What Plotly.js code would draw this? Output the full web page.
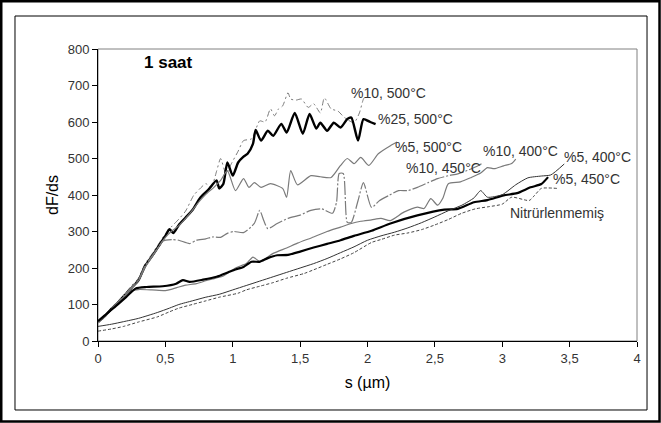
<!DOCTYPE html>
<html><head><meta charset="utf-8">
<script src="https://cdn.plot.ly/plotly-3.0.1.min.js"></script>
<style>html,body{margin:0;padding:0;background:#fff}#chart{width:661px;height:423px}</style>
</head><body><div id="chart"></div>
<script>
// Series names (labels)
const names = ["%10, 500°C", "%25, 500°C", "%5, 500°C", "%10, 450°C", "%10, 400°C", "%5, 450°C", "%5, 400°C", "Nitrürlenmemiş"];

// %10, 500°C
const x10_500 = [0,0.05,0.1,0.15,0.2,0.25,0.3,0.35,0.4,0.45,0.5,0.55,0.6,0.65,0.71,0.75,0.8,0.84,0.88,0.91,0.95,0.99,1.04,1.08,1.14,1.2,1.24,1.28,1.31,1.34,1.37,1.41,1.43,1.47,1.51,1.56,1.6,1.65,1.68,1.73,1.78,1.83,1.9,1.94,1.97,1.99];
const y10_500 = [50,70,92,110,130,152,172,212,238,266,294,315,334,356,399,415,431,421,465,500,458,486,520,549,554,603,600,636,617,636,644,680,663,660,663,640,650,625,666,636,630,612,598,625,663,672];

// %25, 500°C
const x25_500 = [0,0.05,0.1,0.15,0.2,0.25,0.3,0.35,0.4,0.45,0.5,0.53,0.56,0.6,0.65,0.7,0.76,0.82,0.88,0.9,0.93,0.96,1.0,1.04,1.08,1.11,1.15,1.17,1.21,1.26,1.3,1.36,1.4,1.46,1.52,1.57,1.62,1.65,1.7,1.75,1.8,1.85,1.88,1.93,1.97,2.02,2.06];
const y25_500 = [52,68,88,106,126,146,166,206,232,260,288,306,296,318,338,358,393,415,440,418,430,489,453,489,505,513,540,578,549,576,562,595,571,625,568,622,582,598,576,598,585,608,612,549,608,600,594];

// %5, 500°C
const x5_500 = [0,0.05,0.1,0.15,0.2,0.25,0.3,0.35,0.4,0.45,0.5,0.55,0.6,0.65,0.7,0.75,0.8,0.86,0.91,0.96,1.02,1.08,1.12,1.16,1.21,1.28,1.37,1.4,1.43,1.48,1.58,1.65,1.73,1.8,1.85,1.9,1.95,2.01,2.08,2.17,2.22];
const y5_500 = [50,67,87,105,124,144,165,202,230,258,284,302,316,336,358,382,402,421,440,467,412,445,421,434,421,431,418,394,467,428,453,450,448,481,500,486,503,481,513,535,545];

// %10, 450°C
const x10_450 = [0,0.05,0.1,0.15,0.2,0.25,0.3,0.35,0.4,0.45,0.48,0.55,0.6,0.68,0.73,0.8,0.85,0.91,0.96,1.01,1.08,1.16,1.2,1.23,1.26,1.33,1.41,1.5,1.58,1.66,1.74,1.77,1.79,1.82,1.85,1.88,1.93,1.97,2.03,2.09,2.16,2.23,2.3,2.37,2.45,2.52,2.6,2.67,2.74,2.82,2.86];
const y10_450 = [50,68,90,108,128,148,168,206,232,258,274,278,276,267,276,280,285,284,295,300,297,322,358,330,308,322,336,345,358,362,350,380,459,459,325,325,385,434,366,385,399,412,412,421,434,445,453,458,467,480,489];

// %10, 400°C
const x10_400 = [0,0.05,0.1,0.15,0.2,0.25,0.3,0.4,0.5,0.55,0.6,0.65,0.73,0.8,0.85,0.93,1.02,1.1,1.15,1.2,1.3,1.4,1.48,1.6,1.7,1.8,1.88,1.95,2.03,2.1,2.17,2.27,2.37,2.42,2.47,2.52,2.56,2.6,2.69,2.77,2.84,2.89,2.94,3.01,3.07,3.1];
const y10_400 = [52,70,88,105,124,138,141,140,138,142,148,153,157,165,170,178,200,212,230,218,240,255,268,285,300,312,322,328,332,336,330,353,367,363,390,372,392,431,436,448,460,475,472,480,486,498];

// %5, 450°C
const x5_450 = [0,0.05,0.1,0.13,0.21,0.28,0.36,0.48,0.58,0.63,0.68,0.78,0.88,0.97,1.02,1.08,1.14,1.2,1.26,1.33,1.41,1.5,1.6,1.7,1.8,1.9,2.03,2.17,2.37,2.57,2.67,2.79,2.89,3.01,3.11,3.21,3.29,3.34];
const y5_450 = [54,70,86,95,121,144,148,150,157,167,162,168,176,189,196,203,217,217,227,235,236,245,256,266,276,288,302,322,344,360,362,380,386,399,405,421,430,449];

// %5, 400°C
const x5_400 = [0,0.1,0.19,0.3,0.44,0.53,0.6,0.7,0.8,0.9,1.0,1.1,1.2,1.3,1.4,1.5,1.6,1.7,1.8,1.9,2.0,2.1,2.2,2.3,2.4,2.5,2.6,2.7,2.79,2.84,2.89,3.0,3.1,3.19,3.29,3.36,3.46];
const y5_400 = [40,46,53,62,78,90,100,110,120,128,140,152,164,176,188,200,212,226,242,258,276,288,298,310,324,340,357,372,392,412,394,401,428,447,452,455,485];

// Nitrürlenmemiş
const xNit = [0,0.1,0.19,0.3,0.44,0.53,0.6,0.7,0.8,0.9,1.04,1.1,1.2,1.3,1.4,1.53,1.6,1.7,1.8,1.9,2.03,2.1,2.2,2.3,2.4,2.5,2.6,2.7,2.8,2.9,3.0,3.07,3.2,3.24,3.29,3.41];
const yNit = [27,33,40,52,66,80,90,100,110,120,131,140,150,160,172,185,195,210,225,242,270,278,290,296,305,318,333,350,362,368,375,394,385,399,418,418];

// In-chart label texts and their positions (data coords)
const labelText = ["%10, 500°C","%25, 500°C","%5, 500°C","%10, 450°C","%10, 400°C","%5, 450°C","%5, 400°C","Nitrürlenmemiş"];
const labelX = [1.86, 2.06, 2.19, 2.27, 2.84, 3.36, 3.44, 3.04];
const labelY = [680, 609, 532, 475, 521, 445, 503, 352];

const gray = '#7a7a7a';
const traces = [
  {x:x10_500, y:y10_500, line:{color:gray, width:1, dash:'6px,3px,2px,3px'}},
  {x:x25_500, y:y25_500, line:{color:'#000', width:2.4}},
  {x:x5_500, y:y5_500, line:{color:gray, width:1.2}},
  {x:x10_450, y:y10_450, line:{color:gray, width:1.2, dash:'14px,2px,2px,2px'}},
  {x:x10_400, y:y10_400, line:{color:gray, width:1.2}},
  {x:x5_450, y:y5_450, line:{color:'#000', width:2.2}},
  {x:x5_400, y:y5_400, line:{color:'#333', width:1}},
  {x:xNit, y:yNit, line:{color:'#444', width:1, dash:'3px,2px'}}
].map((t,i)=>Object.assign(t,{type:'scatter', mode:'lines', name:names[i], hoverinfo:'skip', line:Object.assign(t.line,{shape:'spline', smoothing:0.6})}));

const font = 'Liberation Sans, Arial, sans-serif';
const annotations = labelText.map((t,i)=>({
  x: labelX[i], y: labelY[i], xref:'x', yref:'y', text:t, showarrow:false,
  xanchor:'left', yanchor:'middle', font:{family:font, size:14, color:'#333'}
}));
annotations.push({x:0.33, y:764, xref:'x', yref:'y', text:'<b>1 saat</b>', showarrow:false,
  xanchor:'left', yanchor:'middle', font:{family:font, size:17, color:'#000'}});

const layout = {
  width:661, height:423,
  margin:{l:98, r:24, t:49, b:82},
  paper_bgcolor:'#fff', plot_bgcolor:'#fff',
  showlegend:false,
  separators:',.',
  font:{family:font, size:13, color:'#333'},
  xaxis:{range:[0,4], dtick:0.5, tick0:0, showgrid:false, zeroline:false,
    showline:true, linecolor:'#000', linewidth:1, ticks:'outside', ticklen:5, tickcolor:'#000',
    tickfont:{family:font, size:13, color:'#333'},
    title:{text:'s (µm)', font:{family:font, size:16, color:'#000'}, standoff:12}},
  yaxis:{range:[0,800], dtick:100, tick0:0, showgrid:false, zeroline:false,
    showline:true, linecolor:'#000', linewidth:1, ticks:'outside', ticklen:5, tickcolor:'#000',
    tickfont:{family:font, size:13, color:'#333'},
    title:{text:'dF/ds', font:{family:font, size:16, color:'#000'}, standoff:5}},
  annotations: annotations,
  shapes:[
    {type:'rect', xref:'paper', yref:'paper', x0:0, x1:1, y0:0, y1:1, line:{color:'#808080', width:1}, layer:'below'},
    {type:'rect', xref:'paper', yref:'paper', x0:-0.154, x1:1.0186, y0:-0.2363, y1:1.113, line:{color:'#000', width:1}},
    {type:'rect', xref:'paper', yref:'paper', x0:-0.1795, x1:1.0418, y0:-0.2757, y1:1.1635, line:{color:'#000', width:2.5}}
  ]
};

Plotly.newPlot('chart', traces, layout, {displayModeBar:false, staticPlot:true});
</script>
</body></html>
